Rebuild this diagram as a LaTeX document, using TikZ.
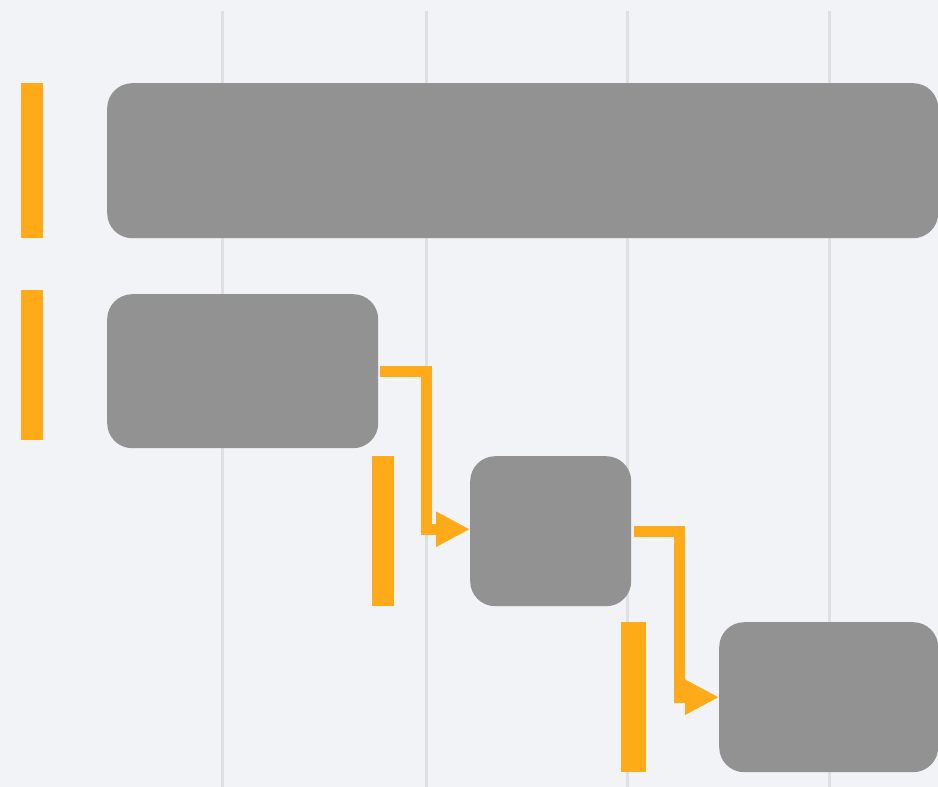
\documentclass[tikz,border=0pt]{standalone}
\usetikzlibrary{arrows.meta}
\definecolor{bgc}{HTML}{F2F3F7}
\definecolor{gridc}{HTML}{E0E0E2}
\definecolor{orng}{HTML}{FFAB19}
\definecolor{boxc}{HTML}{929292}
\tikzset{
  taskbox/.style={fill=boxc, draw=none, rounded corners=25pt, inner sep=0pt, anchor=north west},
  mark bar/.style={fill=orng, draw=none, inner sep=0pt, anchor=north west, minimum width=22pt},
  gridline/.style={draw=gridc, line width=3pt},
  link/.style={draw=orng, line width=11pt, -{Triangle[length=34pt,width=33pt]}},
}
\begin{document}
\begin{tikzpicture}[x=1pt,y=-1pt]
\fill[bgc] (0,0) rectangle (938,787);
\useasboundingbox (0,0) rectangle (938,787);
\foreach \gx/\gn in {222/g1,426/g2,627/g3,829/g4} {
  \coordinate (\gn t) at (\gx,11);
  \coordinate (\gn b) at (\gx,787);
  \draw[gridline] (\gn t) -- (\gn b);
}
\node[mark bar, minimum height=155pt] (m1) at (21,83) {};
\node[mark bar, minimum height=150pt] (m2) at (21,290) {};
\node[mark bar, minimum height=150pt] (m3) at (372,456) {};
\node[mark bar, minimum height=150pt, minimum width=25pt] (m4) at (621,622) {};
\node[taskbox, minimum width=831pt, minimum height=155pt] (b1) at (107,83) {};
\node[taskbox, minimum width=271pt, minimum height=154pt] (b2) at (107,294) {};
\node[taskbox, minimum width=161pt, minimum height=150pt] (b3) at (470,456) {};
\node[taskbox, minimum width=219pt, minimum height=150pt] (b4) at (719,622) {};
\draw[link] ([xshift=2pt]b2.east) -- ++(46,0) |- ([yshift=2pt]b3.west);
\draw[link] ([xshift=3pt]b3.east) -- ++(45,0) |- (b4.west);
\end{tikzpicture}
\end{document}
